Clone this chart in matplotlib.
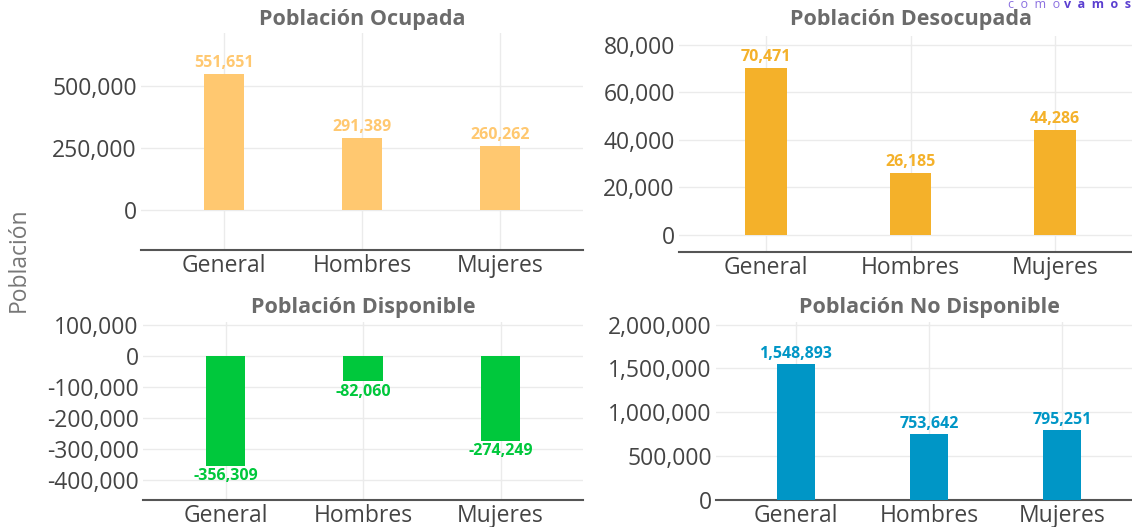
import matplotlib.pyplot as plt
from matplotlib.ticker import FuncFormatter

# datos
categorias = ["General", "Hombres", "Mujeres"]
ocupada = [551651, 291389, 260262]
desocupada = [70471, 26185, 44286]
disponible = [-356309, -82060, -274249]
no_disponible = [1548893, 753642, 795251]

titulos = ["Población Ocupada", "Población Desocupada",
           "Población Disponible", "Población No Disponible"]
colores = ["#FFC870", "#F4B12A", "#00C83C", "#0096C6"]
ticks = [[0, 250000, 500000],
         [0, 20000, 40000, 60000, 80000],
         [-400000, -300000, -200000, -100000, 0, 100000],
         [0, 500000, 1000000, 1500000, 2000000]]
limites = [(-160000, 715000), (-7200, 83800), (-465000, 110000), (0, 2030000)]

plt.rcParams['font.family'] = ['Open Sans', 'DejaVu Sans']

W, H = 1132, 527
fig = plt.figure(figsize=(W / 100, H / 100), dpi=100)

# cajas en pixeles: izq, der, arriba, abajo
cajas = [(141, 583, 33, 250), (679, 1142, 36, 252),
         (143, 583, 322, 500), (716, 1142, 322, 500)]
titulo_y = [20, 20, 308, 308]

fmt = FuncFormatter(lambda v, p: f"{v:,.0f}")
series = [ocupada, desocupada, disponible, no_disponible]

for i in range(4):
    l, r, t, b = cajas[i]
    ax = fig.add_axes([l / W, 1 - b / H, (r - l) / W, (b - t) / H])
    x = range(len(categorias))
    vals = series[i]
    ax.bar(x, vals, width=0.29, color=colores[i], zorder=3)
    ax.set_xlim(-0.6, 2.6)
    ax.set_ylim(*limites[i])
    ax.set_yticks(ticks[i])
    ax.yaxis.set_major_formatter(fmt)
    ax.set_xticks(list(x))
    ax.set_xticklabels(categorias)
    ax.grid(True, color="#ebebeb", linewidth=1, zorder=0)
    for s in ["top", "right", "left"]:
        ax.spines[s].set_visible(False)
    ax.spines["bottom"].set_color("#555555")
    ax.spines["bottom"].set_linewidth(1.5)
    ax.tick_params(length=0, labelsize=16.5, colors="#444444", pad=3)
    rng = limites[i][1] - limites[i][0]
    for xi, v in zip(x, vals):
        if v >= 0:
            ax.text(xi, v + rng * 0.012, f"{v:,}", ha="center", va="bottom",
                    color=colores[i], fontsize=11.5, fontweight="bold")
        else:
            ax.text(xi, v - rng * 0.012, f"{v:,}", ha="center", va="top",
                    color=colores[i], fontsize=11.5, fontweight="bold")
    fig.text(((l + r) / 2) / W, 1 - titulo_y[i] / H, titulos[i], ha="center",
             va="center", fontsize=15.5, fontweight="bold", color="#6b6b6b")

fig.text(19 / W, 1 - 260 / H, "Población", rotation=90, ha="center",
         va="center", fontsize=16.5, color="#777777")
# marca de agua
fig.text(1060 / W, 1 - 5 / H, "c  o  m  o", ha="right", va="center",
         fontsize=9, color="#8a6fe0")
fig.text(1131 / W, 1 - 5 / H, "v  a  m  o  s", ha="right", va="center",
         fontsize=9, color="#5b3fd0", fontweight="bold")

fig.savefig("out.png", dpi=100)
